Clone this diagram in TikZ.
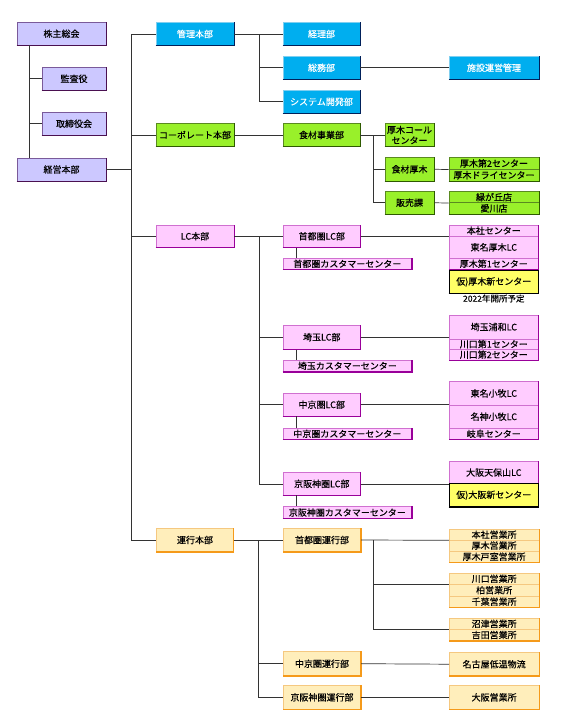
\documentclass[tikz,border=0pt]{standalone}
\usepackage{fontspec}
\newfontfamily\jp{Noto Sans CJK JP}[FakeBold=0.4]
\definecolor{purfill}{HTML}{CCC8FF}
\definecolor{purline}{HTML}{7A5A9A}
\definecolor{purdk}{HTML}{4A1050}
\definecolor{blufill}{HTML}{00AEEF}
\definecolor{bluline}{HTML}{7FCFF0}
\definecolor{bludk}{HTML}{00205A}
\definecolor{grnfill}{HTML}{99F02A}
\definecolor{grnline}{HTML}{5A8A20}
\definecolor{grndk}{HTML}{2E5A00}
\definecolor{pnkfill}{HTML}{FFCCFF}
\definecolor{pnkline}{HTML}{D070D0}
\definecolor{pnkdk}{HTML}{990099}
\definecolor{yelfill}{HTML}{FFFF66}
\definecolor{yelline}{HTML}{000000}
\definecolor{yeldk}{HTML}{000000}
\definecolor{orgfill}{HTML}{FFEEBB}
\definecolor{orgline}{HTML}{F5C880}
\definecolor{orgdk}{HTML}{F59A1A}
\definecolor{conn}{HTML}{333333}
\tikzset{
  base/.style={draw, inner sep=0pt, align=center, line width=0.6pt,
    font=\jp\fontsize{9}{10.5}\selectfont},
  purbox/.style={base, fill=purfill, draw=purline},
  blubox/.style={base, fill=blufill, draw=bluline, text=white},
  grnbox/.style={base, fill=grnfill, draw=grnline},
  pnkbox/.style={base, fill=pnkfill, draw=pnkline},
  yelbox/.style={base, fill=yelfill, draw=yelline, line width=1.2pt},
  orgbox/.style={base, fill=orgfill, draw=orgline},
  link/.style={draw=conn, line width=0.7pt},
}
\newcommand\obox[7]{%
  \node[#2box, minimum width={(#5-#3)*1pt}, minimum height={(#6-#4)*1pt}] (#1) at ({(#3+#5)/2},{(#4+#6)/2}) {#7};
  \draw[#2dk, line width=1.1pt] (#1.south west) -- (#1.south east) -- (#1.north east);
}
\begin{document}
\begin{tikzpicture}[x=1pt,y=-1pt]
\useasboundingbox[fill=white] (0,0) rectangle (562,728);
% purple
\obox{kabu}{pur}{17}{22.5}{106}{45}{株主総会}
\obox{kansa}{pur}{42}{67}{106}{90.5}{監査役}
\obox{tori}{pur}{42}{112}{106}{135.5}{取締役会}
\obox{keiei}{pur}{17}{158}{106}{181}{経営本部}
% blue
\obox{kanri}{blu}{156}{22.5}{234}{45.5}{管理本部}
\obox{keiri}{blu}{283}{22.5}{360}{45.5}{経理部}
\obox{soumu}{blu}{283}{56}{360}{79.5}{総務部}
\obox{sys}{blu}{283}{90}{360}{113.5}{システム開発部}
\obox{shisetsu}{blu}{449}{56}{539}{79.5}{施設運営管理}
% green
\obox{corp}{grn}{156}{123.5}{234}{146.5}{コーポレート本部}
\obox{shokuzai}{grn}{283}{123.5}{360}{146.5}{食材事業部}
\obox{acall}{grn}{385}{123.5}{434}{146.5}{厚木コール\\センター}
\obox{satsugi}{grn}{385}{157.5}{434}{181}{食材厚木}
\obox{hanbai}{grn}{385}{191.5}{434}{214}{販売課}
\obox{sa}{grn}{449}{157.5}{539}{169.25}{厚木第2センター}
\obox{sb}{grn}{449}{169.25}{539}{181}{厚木ドライセンター}
\obox{ma}{grn}{449}{191.5}{539}{202.75}{緑が丘店}
\obox{mb}{grn}{449}{202.75}{539}{214}{愛川店}
% pink
\obox{lchq}{pnk}{156}{225}{234}{247.5}{LC本部}
\obox{shutoLC}{pnk}{283}{225}{360.5}{247.5}{首都圏LC部}
\obox{shutoCC}{pnk}{283}{258.3}{411.7}{269.3}{首都圏カスタマーセンター}
\obox{ha}{pnk}{449.3}{225}{538.3}{236.25}{本社センター}
\obox{hb}{pnk}{449.3}{236.25}{538.3}{258.3}{東名厚木LC}
\obox{hc}{pnk}{449.3}{258.3}{538.3}{269.3}{厚木第1センター}
\obox{kari1}{yel}{449.3}{270.5}{538.3}{293.3}{仮)厚木新センター}
\node[font=\jp\fontsize{8.5}{9}\selectfont, inner sep=0pt] (note) at (493.8,298.5) {2022年開所予定};
\obox{saiLC}{pnk}{283}{325}{360.5}{349.3}{埼玉LC部}
\obox{saiCC}{pnk}{283}{360}{411.7}{371.7}{埼玉カスタマーセンター}
\obox{sca}{pnk}{449.3}{315}{538.3}{339}{埼玉浦和LC}
\obox{scb}{pnk}{449.3}{339}{538.3}{349.3}{川口第1センター}
\obox{scc}{pnk}{449.3}{349.3}{538.3}{360}{川口第2センター}
\obox{chuLC}{pnk}{283}{393.3}{360.5}{416}{中京圏LC部}
\obox{chuCC}{pnk}{283}{428.3}{411.7}{439.3}{中京圏カスタマーセンター}
\obox{cca}{pnk}{449.3}{381.7}{538.3}{405}{東名小牧LC}
\obox{ccb}{pnk}{449.3}{405}{538.3}{428.3}{名神小牧LC}
\obox{ccc}{pnk}{449.3}{428.3}{538.3}{439.3}{岐阜センター}
\obox{keiLC}{pnk}{283}{472.7}{360.5}{495}{京阪神圏LC部}
\obox{keiCC}{pnk}{283}{506.7}{411.7}{518.3}{京阪神圏カスタマーセンター}
\obox{kca}{pnk}{449.3}{461.7}{538.3}{483.3}{大阪天保山LC}
\obox{kari2}{yel}{449.3}{483.8}{538.3}{506.7}{仮)大阪新センター}
% orange
\obox{unko}{org}{156.7}{528.3}{233.3}{551.7}{運行本部}
\obox{shutoUn}{org}{283.3}{528.3}{360.7}{551.7}{首都圏運行部}
\obox{chuUn}{org}{283.3}{651.7}{360.7}{675.7}{中京圏運行部}
\obox{keiUn}{org}{283.3}{685.7}{360.7}{709}{京阪神圏運行部}
\obox{ea}{org}{449.3}{529.3}{539}{540}{本社営業所}
\obox{eb}{org}{449.3}{540}{539}{551}{厚木営業所}
\obox{ec}{org}{449.3}{551}{539}{562.3}{厚木戸室営業所}
\obox{ed}{org}{449.3}{573.3}{539}{584.3}{川口営業所}
\obox{ee}{org}{449.3}{584.3}{539}{596}{柏営業所}
\obox{ef}{org}{449.3}{596}{539}{607.3}{千葉営業所}
\obox{eg}{org}{449.3}{618.3}{539}{629.3}{沼津営業所}
\obox{eh}{org}{449.3}{629.3}{539}{640.7}{吉田営業所}
\obox{nagoya}{org}{449.3}{652.7}{539}{675.7}{名古屋低温物流}
\obox{osaka}{org}{449.3}{685.7}{539}{709}{大阪営業所}
% ---------- connectors
\draw[link] (kabu.south -| 29,0) -- (keiei.north -| 29,0);
\draw[link] (kansa.west) -- (kansa.west -| 29,0);
\draw[link] (tori.west) -- (tori.west -| 29,0);
\draw[link] (keiei.east) -- (keiei.east -| 131,0);
\draw[link] (kanri.west) -- (kanri.west -| 131,0) -- (unko.west -| 131,0) -- (unko.west);
\draw[link] (corp.west) -- (corp.west -| 131,0);
\draw[link] (lchq.west) -- (lchq.west -| 131,0);
\draw[link] (kanri.east) -- (keiri.west);
\draw[link] (keiri.west -| 259,0) -- (sys.west -| 259,0) -- (sys.west);
\draw[link] (soumu.west) -- (soumu.west -| 259,0);
\draw[link] (soumu.east) -- (shisetsu.west);
\draw[link] (corp.east) -- (shokuzai.west);
\draw[link] (shokuzai.east) -- (acall.west);
\draw[link] (shokuzai.east -| 373,0) -- (hanbai.west -| 373,0) -- (hanbai.west);
\draw[link] (satsugi.west) -- (satsugi.west -| 373,0);
\draw[link] (satsugi.east) -- (sa.south west);
\draw[link] (hanbai.east) -- (ma.south west);
\draw[link] (lchq.east) -- (shutoLC.west);
\draw[link] (lchq.east -| 259,0) -- (keiLC.west -| 259,0) -- (keiLC.west);
\draw[link] (saiLC.west) -- (saiLC.west -| 259,0);
\draw[link] (chuLC.west) -- (chuLC.west -| 259,0);
\draw[link] (shutoLC.east) -- (shutoLC.east -| hb.west);
\draw[link] (saiLC.east) -- (saiLC.east -| sca.west);
\draw[link] (chuLC.east) -- (chuLC.east -| cca.west);
\draw[link] (keiLC.east) -- (keiLC.east -| kca.west);
\draw[link] (shutoLC.south -| 296.7,0) -- (shutoCC.north -| 296.7,0);
\draw[link] (saiLC.south -| 296.7,0) -- (saiCC.north -| 296.7,0);
\draw[link] (chuLC.south -| 296.7,0) -- (chuCC.north -| 296.7,0);
\draw[link] (keiLC.south -| 296.7,0) -- (keiCC.north -| 296.7,0);
\draw[link] (unko.east) -- (shutoUn.west);
\draw[link] (unko.east -| 258.3,0) -- (keiUn.west -| 258.3,0) -- (keiUn.west);
\draw[link] (chuUn.west) -- (chuUn.west -| 258.3,0);
\draw[link] (shutoUn.east) -- (ea.south west);
\draw[link] (ea.south west -| 373.3,0) -- (eg.south west -| 373.3,0) -- (eg.south west);
\draw[link] (ed.south west) -- (ed.south west -| 373.3,0);
\draw[link] (chuUn.east) -- (nagoya.west);
\draw[link] (keiUn.east) -- (osaka.west);
\end{tikzpicture}
\end{document}
